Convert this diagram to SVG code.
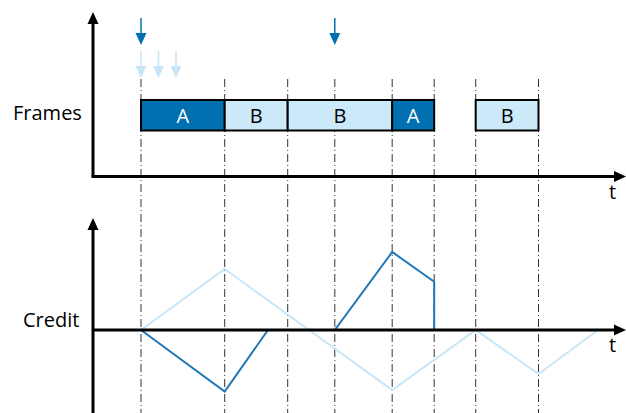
<svg xmlns="http://www.w3.org/2000/svg" width="626" height="413" viewBox="0 0 626 413">
<style>
.axis{stroke:#000;stroke-width:3;fill:none}
.grid{stroke:#333;stroke-width:1;stroke-dasharray:8,3,1,3;fill:none}
.dark{fill:#0070b0;stroke:#000;stroke-width:2}
.light{fill:#cce9fa;stroke:#000;stroke-width:2}
.lbl{font-family:"Open Sans","Noto Sans",sans-serif;font-size:20px}
.cdark{stroke:#1f78b8;stroke-width:2;fill:none}
.clight{stroke:#c8e6f8;stroke-width:2;fill:none}
</style>
<rect width="626" height="413" fill="#fff"/>
<g id="grid">
<line class="grid" x1="141" y1="79" x2="141" y2="413"/>
<line class="grid" x1="224.7" y1="79" x2="224.7" y2="413"/>
<line class="grid" x1="287.7" y1="79" x2="287.7" y2="413"/>
<line class="grid" x1="334.8" y1="79" x2="334.8" y2="413"/>
<line class="grid" x1="392.2" y1="79" x2="392.2" y2="413"/>
<line class="grid" x1="434.2" y1="79" x2="434.2" y2="413"/>
<line class="grid" x1="475.7" y1="79" x2="475.7" y2="413"/>
<line class="grid" x1="538.5" y1="79" x2="538.5" y2="413"/>
</g>
<g id="frames">
<rect class="dark" x="141" y="100" width="83.7" height="30.5"/>
<rect class="light" x="224.7" y="100" width="63" height="30.5"/>
<rect class="light" x="287.7" y="100" width="104.5" height="30.5"/>
<rect class="dark" x="392.2" y="100" width="42" height="30.5"/>
<rect class="light" x="475.7" y="100" width="62.8" height="30.5"/>
<text class="lbl" x="182.8" y="122.5" text-anchor="middle" fill="#fff">A</text>
<text class="lbl" x="256.2" y="122.5" text-anchor="middle">B</text>
<text class="lbl" x="340" y="122.5" text-anchor="middle">B</text>
<text class="lbl" x="413.2" y="122.5" text-anchor="middle" fill="#fff">A</text>
<text class="lbl" x="507.1" y="122.5" text-anchor="middle">B</text>
</g>
<g id="arrivals">
<line x1="141" y1="18" x2="141" y2="34" stroke="#0070b0" stroke-width="1.5"/>
<path d="M135.5,33 L146.5,33 L141,45 z" fill="#0070b0"/>
<line x1="334.8" y1="18" x2="334.8" y2="34" stroke="#0070b0" stroke-width="1.5"/>
<path d="M329.3,33 L340.3,33 L334.8,45 z" fill="#0070b0"/>
<line x1="141" y1="51" x2="141" y2="67" stroke="#c8e6f8" stroke-width="1.5"/>
<path d="M135.5,66 L146.5,66 L141,78 z" fill="#c8e6f8"/>
<line x1="158.5" y1="51" x2="158.5" y2="67" stroke="#c8e6f8" stroke-width="1.5"/>
<path d="M153,66 L164,66 L158.5,78 z" fill="#c8e6f8"/>
<line x1="176" y1="51" x2="176" y2="67" stroke="#c8e6f8" stroke-width="1.5"/>
<path d="M170.5,66 L181.5,66 L176,78 z" fill="#c8e6f8"/>
</g>
<g id="credit">
<polyline class="clight" points="141,330 224.7,269 392.2,390 475.7,330 538.5,374 598,330"/>
<polyline class="cdark" points="141,330 224.7,391.5 268,330 334.8,330 392.2,252 434.2,281.7 434.2,330"/>
</g>
<g id="axes">
<line class="axis" x1="93" y1="176.5" x2="93" y2="22"/>
<path d="M87.5,24 L98.5,24 L93,12 z"/>
<line class="axis" x1="91.5" y1="176.5" x2="616" y2="176.5"/>
<path d="M614,171 L614,182 L626,176.5 z"/>
<line class="axis" x1="93" y1="413" x2="93" y2="228"/>
<path d="M87.5,230 L98.5,230 L93,218 z"/>
<line class="axis" x1="93" y1="330" x2="616" y2="330"/>
<path d="M614,324.5 L614,335.5 L626,330 z"/>
</g>
<g id="labels">
<text class="lbl" x="13" y="120">Frames</text>
<text class="lbl" x="23" y="327">Credit</text>
<text class="lbl" x="609" y="199">t</text>
<text class="lbl" x="609" y="352">t</text>
</g>
</svg>
